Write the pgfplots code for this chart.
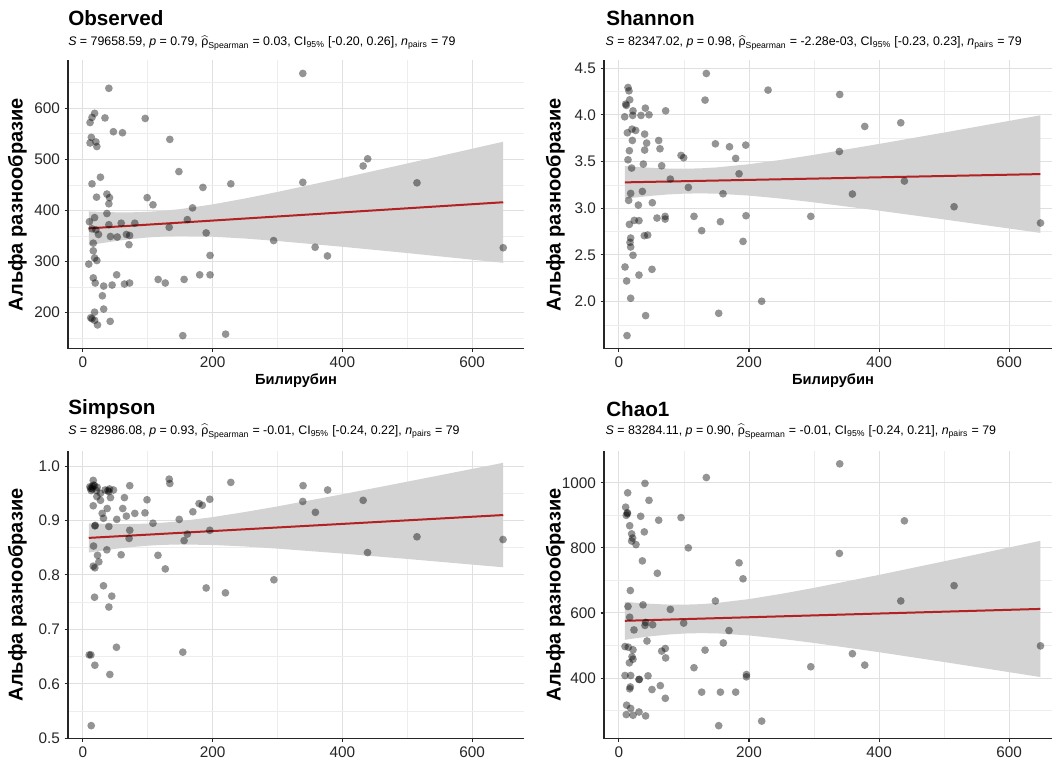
\documentclass[border=0pt]{standalone}
\usepackage{fontspec}
\setmainfont{Liberation Sans}
\usepackage{amsmath}
\usepackage{pgfplots}
\pgfplotsset{compat=1.18}
\usepackage{pgfplotstable}

\definecolor{fitred}{RGB}{178,34,34}
\definecolor{bandgray}{RGB}{211,211,211}
\definecolor{gridmaj}{RGB}{224,224,224}
\definecolor{gridmin}{RGB}{237,237,237}

% Observed
\pgfplotstableread{
x y
40 639
18 590
14 582
11 572
34 581
96 580
47 554
61 552
13 543
11 532
20 534
21.5 525
134 539
148 476
14 452
27 465
185 445
228 452
21 426
37 432
41 425
40 413
99 425
108 411
169 405
10 378
18 386
37 394
40 372
59 375
80 375
161 382
14 364
20 362
24 353
42.5 349
53 348
67 353
72 351
71 333
133 367
190 356
16 336
16 321
18 307
21.5 302
9 295
196 312
16 268
19 258
32 252
45 254
52 274
64 256
72 258
116 265
127 258
156 265
180 274
196 274
30 233
18 201
32 207
12 190
14 188
18 185
22.5 176
42 183
154 155
220 158
339 668
339 455
439 501
432 487
515 454
294 341
358 328
377 311
648 327
}\obs

% Shannon
\pgfplotstableread{
x y
134.4 4.443
13.9 4.293
15.4 4.257
16.5 4.161
11.3 4.101
10.3 4.115
21.6 4.043
40.6 4.072
71.8 4.043
8.8 3.979
21.1 3.994
33.9 3.994
46.2 4.001
132.4 4.158
229.3 4.265
12.9 3.808
20.1 3.847
25.7 3.833
20.6 3.726
39.5 3.794
42.6 3.698
61.1 3.726
16.0 3.616
39.5 3.623
63.1 3.637
13.9 3.519
19.5 3.430
37.5 3.473
65.7 3.455
95.5 3.566
99.5 3.541
148.3 3.690
170 3.658
195 3.676
179.5 3.534
184.7 3.369
79 3.312
106.7 3.223
160 3.155
18 3.159
36 3.180
14.9 3.084
29.8 3.034
51.3 3.059
16 2.827
23.6 2.870
30.8 2.867
58.5 2.895
71 2.913
71 2.884
115.4 2.913
156 2.856
195.4 2.920
127.2 2.760
18 2.681
17 2.635
18 2.585
39 2.706
44.2 2.713
21.6 2.496
190.8 2.645
9.3 2.371
11.8 2.221
30.8 2.285
50.8 2.346
18 2.036
41 1.850
153.4 1.875
219.5 2.004
12.4 1.636
339.5 4.218
378 3.876
433.4 3.915
339 3.608
439 3.291
359 3.152
295 2.913
515.4 3.016
648.3 2.842
}\sha

% Simpson
\pgfplotstableread{
x y
15.9 0.9737
10.8 0.962
14.3 0.962
17.9 0.964
22 0.961
12.8 0.955
14.3 0.958
34.3 0.956
41 0.958
47.1 0.956
40 0.953
72.2 0.964
133 0.976
134 0.968
228 0.970
21.5 0.944
27.1 0.937
42.5 0.942
64 0.942
15.9 0.927
98.8 0.938
37.4 0.922
61.4 0.922
29.7 0.913
31.7 0.904
67 0.908
80 0.913
95.7 0.914
52.2 0.902
179 0.931
184 0.928
195.6 0.939
169.5 0.916
148.5 0.902
18.4 0.890
19 0.891
40 0.889
108 0.895
72.2 0.882
71.2 0.867
161 0.875
156 0.863
195.6 0.882
16.4 0.853
36.9 0.846
22.5 0.836
24.6 0.824
58.9 0.837
115.7 0.836
15.9 0.816
18.4 0.813
127 0.811
31.7 0.780
190 0.776
219.7 0.767
17.9 0.759
44.5 0.761
40 0.741
51.7 0.667
154 0.658
9.7 0.653
12.3 0.653
18.4 0.634
41.5 0.617
12.8 0.523
339.4 0.964
377.3 0.956
338.9 0.935
432 0.937
358.4 0.915
515 0.870
647.7 0.865
438.8 0.841
294.4 0.791
11.8 0.959
21 0.955
38.4 0.955
27 0.950
16.4 0.965
}\sim

% Chao1
\pgfplotstableread{
x y
134.4 1016
40 998
13.4 969
46.2 946
10.3 925
12.9 908
11.3 900
33.4 897
61.1 885
95.5 893
16.5 868
19.5 843
21.1 830
19.5 821
26.2 810
39 849
106.7 800
36 760
59 722
184.7 754
190.8 705
17.5 669
148.3 637
13.9 620
37 625
16.5 587
79 611
40 562
41 571
51.8 564
99.5 569
23.1 548
43.1 514
9.3 497
14.4 495
21.6 487
20.1 466
21.6 458
16 447
65.7 483
71.3 491
71.8 462
132.4 486
160.5 508
169.2 546
115.4 432
9.3 408
18 408
30.8 396
31.3 396
44.7 407
196 411
196 404
17.5 373
16.5 367
50.8 365
63.6 377
71.3 338
127.2 357
156 357
179.5 357
11.8 317
18 307
11.3 288
21.6 286
30.8 296
41 284
153.4 254
219.5 268
339.5 1058
439 883
339 783
515.4 684
433.4 637
648.3 499
359 475
378 440
295 435
13 905
}\cha

\pgfplotsset{
  panel/.style={
    scale only axis,
    axis x line*=bottom, axis y line*=left,
    axis line style={line width=0.9pt, black!85},
    tick align=outside,
    major tick length=2.5pt,
    tick style={line width=0.8pt, black!85},
    minor tick style={draw=none},
    grid=both,
    major grid style={gridmaj, line width=0.75pt},
    minor grid style={gridmin, line width=0.5pt},
    tick label style={font=\fontsize{11.5}{13}\selectfont, text=black!85},
    xtick={0,200,400,600}, minor xtick={100,300,500},
    xticklabels={0,200,400,600},
    clip=false,
  },
  pts/.style={only marks, mark=*, mark size=2.9pt,
    mark options={draw opacity=0, fill=black, fill opacity=0.42}},
  fit/.style={fitred, line width=1.5pt, no marks},
  band/.style={draw=none, fill=bandgray, no marks},
}

\newcommand{\ylab}{\fontsize{15}{17}\selectfont\bfseries Альфа разнообразие}
\newcommand{\xlab}{\fontsize{11}{13}\selectfont\bfseries Билирубин}
\newcommand{\ttl}[1]{\fontsize{15.5}{17}\selectfont\bfseries #1}
\newcommand{\subfont}{\fontsize{9.3}{11}\selectfont}

\begin{document}
\begin{tikzpicture}
\useasboundingbox (0,0) rectangle (789pt,570pt);

% ---- Observed
\begin{axis}[panel, at={(51pt,308.48pt)}, anchor=south west,
  width=342pt, height=216.2pt,
  xmin=-23, xmax=680, ymin=129.5, ymax=693.5,
  ytick={200,300,400,500,600}, minor ytick={150,250,350,450,550,650},
  yticklabels={200,300,400,500,600}]
\addplot[band] coordinates {(9,398.0)(25,397.2)(50,396.4)(75,396.3)(100,397.3)(125,399.4)(150,402.6)(200,411.8)(250,423.4)(300,436.2)(400,463.5)(500,491.8)(648,534.5)
 (648,297.5)(500,316.6)(400,328.9)(300,340.2)(250,345.0)(200,348.6)(150,349.8)(125,349.0)(100,347.1)(75,344.1)(50,340.0)(25,335.2)(9,331.8)} -- cycle;
\addplot[pts] table {\obs};
\addplot[fit] coordinates {(9,364.9)(648,416.0)};
\end{axis}

% ---- Shannon
\begin{axis}[panel, at={(453pt,308.48pt)}, anchor=south west,
  width=336pt, height=216.2pt,
  xmin=-23, xmax=666, ymin=1.496, ymax=4.583,
  ytick={2,2.5,3,3.5,4,4.5}, minor ytick={1.75,2.25,2.75,3.25,3.75,4.25},
  yticklabels={2.0,2.5,3.0,3.5,4.0,4.5}]
\addplot[band] coordinates {(9,3.4529)(25,3.4437)(50,3.4322)(75,3.4248)(100,3.4228)(125,3.4270)(150,3.4370)(200,3.4715)(250,3.5184)(300,3.5720)(400,3.6885)(500,3.8105)(648,3.9951)
 (648,2.7365)(500,2.8799)(400,2.9741)(300,3.0628)(250,3.1026)(200,3.1355)(150,3.1562)(125,3.1592)(100,3.1564)(75,3.1474)(50,3.1332)(25,3.1147)(9,3.1011)} -- cycle;
\addplot[pts] table {\sha};
\addplot[fit] coordinates {(9,3.2770)(648,3.3658)};
\end{axis}

% ---- Simpson
\begin{axis}[panel, at={(51pt,15.98pt)}, anchor=south west,
  width=342pt, height=215.9pt,
  xmin=-23, xmax=680, ymin=0.499, ymax=1.028,
  ytick={0.5,0.6,0.7,0.8,0.9,1.0}, minor ytick={0.55,0.65,0.75,0.85,0.95},
  yticklabels={0.5,0.6,0.7,0.8,0.9,1.0}]
\addplot[band] coordinates {(9,.8948)(25,.8941)(50,.8935)(75,.8935)(100,.8943)(125,.8960)(150,.8987)(200,.9062)(250,.9156)(300,.9259)(400,.9482)(500,.9713)(648,1.0060)
 (648,.8140)(500,.8293)(400,.8392)(300,.8483)(250,.8522)(200,.8550)(150,.8559)(125,.8552)(100,.8537)(75,.8511)(50,.8479)(25,.8439)(9,.8412)} -- cycle;
\addplot[pts] table {\sim};
\addplot[fit] coordinates {(9,.8680)(648,.9100)};
\end{axis}

% ---- Chao1
\begin{axis}[panel, at={(453pt,15.98pt)}, anchor=south west,
  width=336pt, height=215.9pt,
  xmin=-23, xmax=666, ymin=214, ymax=1098,
  ytick={400,600,800,1000}, minor ytick={300,500,700,900},
  yticklabels={400,600,800,1000}]
\addplot[band] coordinates {(9,634.4)(25,631.5)(50,628.1)(75,625.9)(100,625.5)(125,627.1)(150,630.7)(200,642.7)(250,658.9)(300,677.2)(400,717.0)(500,758.7)(648,821.6)
 (648,403.4)(500,449.5)(400,479.6)(300,508.0)(250,520.7)(200,531.1)(150,537.5)(125,538.1)(100,536.9)(75,533.7)(50,528.7)(25,522.3)(9,517.6)} -- cycle;
\addplot[pts] table {\cha};
\addplot[fit] coordinates {(9,576.0)(648,612.5)};
\end{axis}

% titles, subtitles, axis labels
\node[anchor=west, inner sep=0] at (51pt,556.1pt) {\ttl{Observed}};
\node[anchor=west, inner sep=0] at (454.5pt,556.1pt) {\ttl{Shannon}};
\node[anchor=west, inner sep=0] at (51pt,263.25pt) {\ttl{Simpson}};
\node[anchor=west, inner sep=0] at (454.5pt,263.25pt) {\ttl{Chao1}};

\node[anchor=west, inner sep=0] at (51pt,537.75pt) {\subfont \textit{S} = 79658.59, \textit{p} = 0.79, $\widehat{\text{ρ}}_{\text{Spearman}}$ = 0.03, CI\textsubscript{95\%} [-0.20, 0.26], \textit{n}\textsubscript{pairs} = 79};
\node[anchor=west, inner sep=0] at (454pt,537.75pt) {\subfont \textit{S} = 82347.02, \textit{p} = 0.98, $\widehat{\text{ρ}}_{\text{Spearman}}$ = -2.28e-03, CI\textsubscript{95\%} [-0.23, 0.23], \textit{n}\textsubscript{pairs} = 79};
\node[anchor=west, inner sep=0] at (51pt,246.2pt) {\subfont \textit{S} = 82986.08, \textit{p} = 0.93, $\widehat{\text{ρ}}_{\text{Spearman}}$ = -0.01, CI\textsubscript{95\%} [-0.24, 0.22], \textit{n}\textsubscript{pairs} = 79};
\node[anchor=west, inner sep=0] at (454pt,246.2pt) {\subfont \textit{S} = 83284.11, \textit{p} = 0.90, $\widehat{\text{ρ}}_{\text{Spearman}}$ = -0.01, CI\textsubscript{95\%} [-0.24, 0.21], \textit{n}\textsubscript{pairs} = 79};

\node[rotate=90, inner sep=0] at (13pt,416.6pt) {\ylab};
\node[rotate=90, inner sep=0] at (416.5pt,416.6pt) {\ylab};
\node[rotate=90, inner sep=0] at (13pt,123.9pt) {\ylab};
\node[rotate=90, inner sep=0] at (416.5pt,123.9pt) {\ylab};

\node[inner sep=0] at (222pt,284.25pt) {\xlab};
\node[inner sep=0] at (624.75pt,284.25pt) {\xlab};
\end{tikzpicture}
\end{document}
